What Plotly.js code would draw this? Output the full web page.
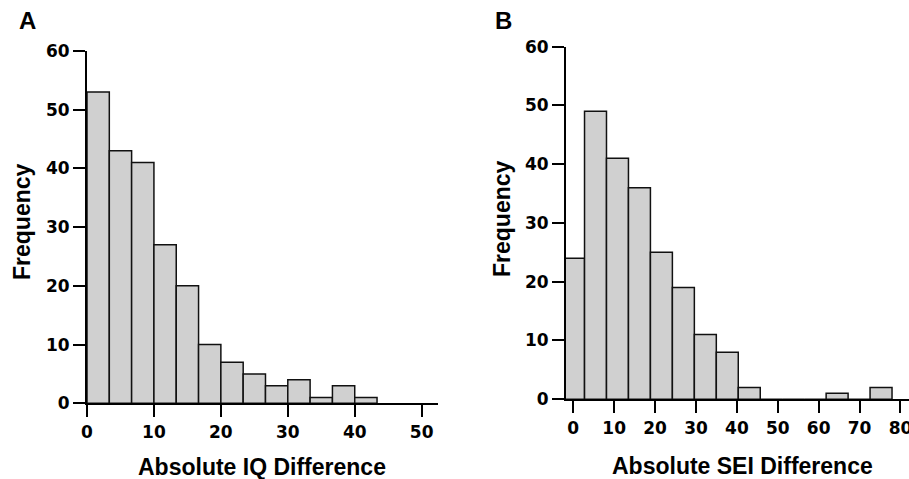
<!DOCTYPE html>
<html>
<head>
<meta charset="utf-8">
<script src="https://cdn.plot.ly/plotly-3.0.1.min.js"></script>
<style>html,body{margin:0;padding:0;background:#fff;}#chart{width:909px;height:479px;}</style>
</head>
<body>
<div id="chart"></div>
<script>
// Panel A: Absolute IQ Difference histogram
const iq_bin_edges = [0, 3.333, 6.667, 10, 13.333, 16.667, 20, 23.333, 26.667, 30, 33.333, 36.667, 40, 43.333];
const iq_counts = [53, 43, 41, 27, 20, 10, 7, 5, 3, 4, 1, 3, 1];
const iq_ticks = [0, 10, 20, 30, 40, 50];

// Panel B: Absolute SEI Difference histogram
const sei_bin_edges = [-2.62, 2.75, 8.12, 13.49, 18.86, 24.23, 29.6, 34.97, 40.34, 45.71, 51.08, 56.45, 61.82, 67.19, 72.56, 77.93];
const sei_counts = [24, 49, 41, 36, 25, 19, 11, 8, 2, 0, 0, 0, 1, 0, 2];
const sei_ticks = [0, 10, 20, 30, 40, 50, 60, 70, 80];

const freq_ticks = [0, 10, 20, 30, 40, 50, 60];

const W = 909, H = 479;
const px = v => v / W;
const py = v => 1 - v / H;

function binsToBars(edges, counts) {
  const x = [], w = [];
  for (let i = 0; i < counts.length; i++) {
    x.push((edges[i] + edges[i + 1]) / 2);
    w.push(edges[i + 1] - edges[i]);
  }
  return {x, w};
}

const A = binsToBars(iq_bin_edges, iq_counts);
const B = binsToBars(sei_bin_edges, sei_counts);

const barStyle = {color: '#d0d0d0', line: {color: '#111', width: 1.5}};
const FONT = 'Liberation Sans, Arial, Helvetica, sans-serif';
const tickFont = {family: 'DejaVu Sans, Liberation Sans, sans-serif', size: 17, color: '#000', weight: 'bold'};
const titleFont = {family: FONT, size: 23, color: '#000', weight: 'bold'};

const traces = [
  {type: 'bar', x: A.x, y: iq_counts, width: A.w, marker: barStyle, xaxis: 'x', yaxis: 'y', hoverinfo: 'x+y'},
  {type: 'bar', x: B.x, y: sei_counts, width: B.w, marker: barStyle, xaxis: 'x2', yaxis: 'y2', hoverinfo: 'x+y'}
];

const axBase = {
  showgrid: false, zeroline: false, showline: true, linecolor: '#000', linewidth: 2,
  ticks: 'outside', ticklen: 12, tickwidth: 2, tickcolor: '#000', tickfont: tickFont,
  ticklabeloverflow: 'allow', fixedrange: true
};

const layout = {
  width: W, height: H,
  margin: {l: 0, r: 0, t: 0, b: 0, pad: 0},
  paper_bgcolor: '#fff', plot_bgcolor: '#fff',
  showlegend: false, bargap: 0,
  xaxis: Object.assign({}, axBase, {domain: [px(87), px(438)], range: [0, 52.44], tickvals: iq_ticks, anchor: 'y'}),
  yaxis: Object.assign({}, axBase, {domain: [py(403.3), py(51)], range: [0, 60], tickvals: freq_ticks, anchor: 'x'}),
  xaxis2: Object.assign({}, axBase, {domain: [px(566), 1], range: [-1.78, 82.08], tickvals: sei_ticks, anchor: 'y2'}),
  yaxis2: Object.assign({}, axBase, {domain: [py(399.2), py(46.7)], range: [0, 60], tickvals: freq_ticks, anchor: 'x2'}),
  shapes: [
    {type: 'line', xref: 'paper', yref: 'y', x0: px(75), x1: px(87), y0: 0, y1: 0, line: {color: '#000', width: 2}},
    {type: 'line', xref: 'paper', yref: 'y2', x0: px(554), x1: px(566), y0: 0, y1: 0, line: {color: '#000', width: 2}}
  ],
  annotations: [
    {text: 'A', xref: 'paper', yref: 'paper', x: px(17), y: py(20.5), xanchor: 'left', yanchor: 'middle', showarrow: false, font: {family: FONT, size: 24, color: '#000', weight: 'bold'}},
    {text: 'B', xref: 'paper', yref: 'paper', x: px(493), y: py(20), xanchor: 'left', yanchor: 'middle', showarrow: false, font: {family: FONT, size: 24, color: '#000', weight: 'bold'}},
    {text: 'Frequency', xref: 'paper', yref: 'paper', x: px(22), y: py(222), xanchor: 'center', yanchor: 'middle', textangle: -90, showarrow: false, font: titleFont},
    {text: 'Frequency', xref: 'paper', yref: 'paper', x: px(502), y: py(219), xanchor: 'center', yanchor: 'middle', textangle: -90, showarrow: false, font: titleFont},
    {text: 'Absolute IQ Difference', xref: 'paper', yref: 'paper', x: px(262), y: py(466.5), xanchor: 'center', yanchor: 'middle', borderpad: 0, showarrow: false, font: titleFont},
    {text: 'Absolute SEI Difference', xref: 'paper', yref: 'paper', x: px(742), y: py(466), xanchor: 'center', yanchor: 'middle', borderpad: 0, showarrow: false, font: titleFont}
  ]
};

Plotly.newPlot('chart', traces, layout, {displayModeBar: false, staticPlot: true});
</script>
</body>
</html>
